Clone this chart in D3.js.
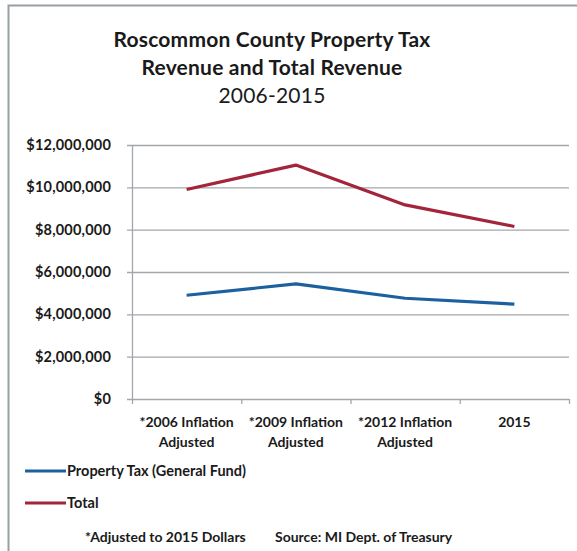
<!DOCTYPE html>
<html>
<head>
<meta charset="utf-8">
<script src="https://cdn.jsdelivr.net/npm/d3@7"></script>
<style>
  html, body { margin: 0; padding: 0; background: #fff; }
  svg { display: block; }
  text { font-family: Lato, "Open Sans", sans-serif; fill: #1a1a1a; }
</style>
</head>
<body>
<svg id="chart" width="577" height="551"></svg>
<script>
const categories = ["*2006 Inflation|Adjusted", "*2009 Inflation|Adjusted", "*2012 Inflation|Adjusted", "2015"];
const propertyTax = [4900000, 5440000, 4760000, 4480000];
const totalRevenue = [9900000, 11050000, 9170000, 8150000];
const yTicks = [0, 2000000, 4000000, 6000000, 8000000, 10000000, 12000000];
const titleLines = ["Roscommon County Property Tax", "Revenue and Total Revenue", "2006-2015"];
const seriesNames = ["Property Tax (General Fund)", "Total"];
const footnotes = ["*Adjusted to 2015 Dollars", "Source: MI Dept. of Treasury"];

const svg = d3.select("#chart");
const colors = ["#1c609f", "#a3253b"];

// outer border (left + top)
svg.append("path").attr("d", "M8.5,551 L8.5,5.5 L577,5.5")
  .attr("fill", "none").attr("stroke", "#9a9fa4").attr("stroke-width", 2);

// title
svg.append("g").selectAll("text").data(titleLines).join("text")
  .attr("x", 272).attr("y", (d, i) => 47 + i * 28)
  .attr("text-anchor", "middle")
  .attr("font-size", 21).attr("font-weight", (d, i) => i < 2 ? 700 : 400)
  .attr("letter-spacing", 0.2)
  .text(d => d);

const pLeft = 132, pRight = 569, pTop = 145, pBottom = 399;
const x = d3.scaleBand().domain(categories).range([pLeft, pRight]);
const y = d3.scaleLinear().domain([0, 12000000]).range([pBottom, pTop]);

// gridlines
svg.append("g").selectAll("line").data(yTicks).join("line")
  .attr("x1", pLeft - 5).attr("x2", pRight)
  .attr("y1", d => y(d) + 0.5).attr("y2", d => y(d) + 0.5)
  .attr("stroke", "#a3a7ab").attr("stroke-width", 1.3);

// y axis line
svg.append("line").attr("x1", pLeft + 0.5).attr("x2", pLeft + 0.5)
  .attr("y1", pTop).attr("y2", pBottom).attr("stroke", "#a3a7ab").attr("stroke-width", 1.3);

// x axis ticks
const xTickPos = categories.map(c => x(c)).concat([pRight]);
svg.append("g").selectAll("line").data(xTickPos).join("line")
  .attr("x1", d => d + 0.5).attr("x2", d => d + 0.5)
  .attr("y1", pBottom).attr("y2", pBottom + 5)
  .attr("stroke", "#a3a7ab").attr("stroke-width", 1.3);

// y labels
const fmt = d3.format("$,");
svg.append("g").selectAll("text").data(yTicks).join("text")
  .attr("x", 111).attr("y", d => y(d) + 5)
  .attr("text-anchor", "end").attr("font-size", 14.5).attr("font-weight", 700)
  .attr("letter-spacing", 0.2)
  .text(d => fmt(d));

// x labels
const xl = svg.append("g").selectAll("text").data(categories).join("text")
  .attr("x", d => x(d) + x.bandwidth() / 2)
  .attr("text-anchor", "middle").attr("font-size", 14).attr("font-weight", 700);
xl.each(function(d) {
  const parts = d.split("|");
  const t = d3.select(this);
  parts.forEach((p, i) => {
    t.append("tspan").attr("x", x(d) + x.bandwidth() / 2).attr("y", 427 + i * 20).text(p);
  });
});

// lines
const line = d3.line().x((d, i) => x(categories[i]) + x.bandwidth() / 2).y(d => y(d));
[propertyTax, totalRevenue].forEach((s, i) => {
  svg.append("path").datum(s).attr("d", line)
    .attr("fill", "none").attr("stroke", colors[i]).attr("stroke-width", 3.2)
    .attr("stroke-linejoin", "round");
});

// legend
const lg = svg.append("g").selectAll("g").data(seriesNames).join("g")
  .attr("transform", (d, i) => `translate(0, ${471 + i * 32})`);
lg.append("line").attr("x1", 25).attr("x2", 66).attr("y1", 0).attr("y2", 0)
  .attr("stroke", (d, i) => colors[i]).attr("stroke-width", 3);
lg.append("text").attr("x", 67).attr("y", 5).attr("font-size", 14.5).attr("font-weight", 700)
  .text(d => d);

// footnotes
svg.append("g").selectAll("text").data(footnotes).join("text")
  .attr("x", (d, i) => i === 0 ? 85 : 275).attr("y", 542)
  .attr("font-size", 14).attr("font-weight", 700)
  .text(d => d);
</script>
</body>
</html>
